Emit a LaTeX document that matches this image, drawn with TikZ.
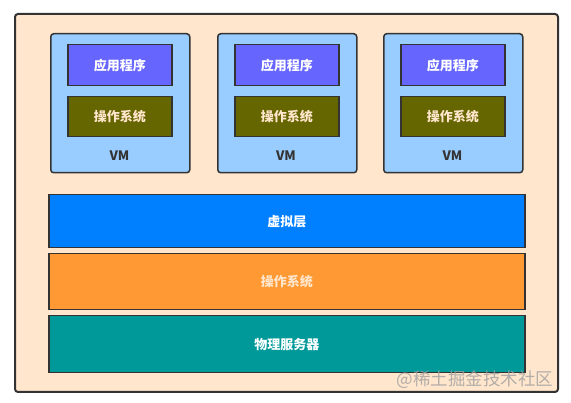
\documentclass[tikz,border=0pt]{standalone}
\usepackage{fontspec}
\newfontfamily\cjk{Noto Sans CJK SC}
\definecolor{peach}{HTML}{FFE6CC}
\definecolor{vmblue}{HTML}{99CCFF}
\definecolor{appviolet}{HTML}{6666FF}
\definecolor{osolive}{HTML}{666600}
\definecolor{hypblue}{HTML}{007FFF}
\definecolor{hostorange}{HTML}{FF9933}
\definecolor{hwteal}{HTML}{009999}
\definecolor{edge}{HTML}{333333}
\begin{document}
\begin{tikzpicture}[x=1pt, y=-1pt,
    box/.style={draw=edge, line width=1.5pt, anchor=north west, inner sep=0pt},
    vmbox/.style={box, fill=vmblue, rounded corners=3pt, minimum width=139pt, minimum height=139pt},
    appbox/.style={box, fill=appviolet, minimum width=104pt, minimum height=41pt},
    osbox/.style={box, fill=osolive, minimum width=104pt, minimum height=40pt},
    layer/.style={box, minimum width=476pt},
    lbl/.style={font=\cjk\bfseries\fontsize{13}{15}\selectfont, text=white},
    vmlbl/.style={font=\cjk\bfseries\fontsize{13}{15}\selectfont, text=edge}]
        \useasboundingbox (0,0) rectangle (571,403);

        % host frame
        \node[box, fill=peach, line width=2pt, rounded corners=3pt,
              minimum width=543pt, minimum height=378pt] (frame) at (14,13) {};

        % virtual machines
        \node[vmbox] (vm1) at (50,33) {};
        \node[appbox] (app1) at (67,44) {};
        \node[lbl] at (app1.center) {应用程序};
        \node[osbox] (os1) at (67,96) {};
        \node[lbl, text=peach] at (os1.center) {操作系统};
        \node[vmlbl] (vml1) at (119.5,156) {VM};

        \node[vmbox] (vm2) at (217,33) {};
        \node[appbox] (app2) at (234,44) {};
        \node[lbl] at (app2.center) {应用程序};
        \node[osbox] (os2) at (234,96) {};
        \node[lbl, text=peach] at (os2.center) {操作系统};
        \node[vmlbl] (vml2) at (286,156) {VM};

        \node[vmbox] (vm3) at (383,33) {};
        \node[appbox] (app3) at (400,44) {};
        \node[lbl] at (app3.center) {应用程序};
        \node[osbox] (os3) at (400,96) {};
        \node[lbl, text=peach] at (os3.center) {操作系统};
        \node[vmlbl] (vml3) at (452.5,156) {VM};

        % layers
        \node[layer, fill=hypblue, minimum height=53pt] (hyp) at (48,194) {};
        \node[lbl] at (hyp.center) {虚拟层};
        \node[layer, fill=hostorange, minimum height=56pt] (host) at (48,253) {};
        \node[lbl, text=peach] at (host.center) {操作系统};
        \node[layer, fill=hwteal, minimum height=57pt] (hw) at (48,315) {};
        \node[lbl] at (hw.center) {物理服务器};

        % watermark
        \node[font=\cjk\fontsize{17.5}{19}\selectfont, text=gray!75, opacity=0.8,
              anchor=east] (mark) at (557,380) {@稀土掘金技术社区};
\end{tikzpicture}
\end{document}
